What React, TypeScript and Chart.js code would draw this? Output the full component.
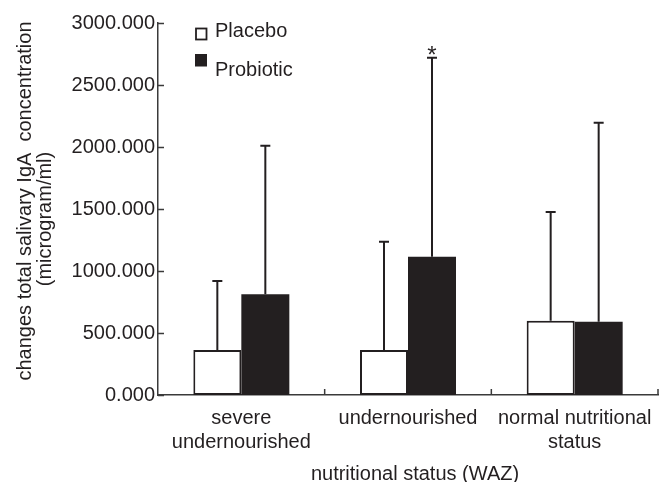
import React, { useEffect, useRef } from "react";
import { Chart, registerables } from "chart.js";

Chart.register(...registerables);

// ---- data ----
const categories: (string | string[])[] = [
  ["severe", "undernourished"],
  "undernourished",
  ["normal nutritional", "status"],
];
const placeboMeans = [363, 363, 599];
const placeboSD = [556, 872, 877];
const probioticMeans = [812, 1115, 590];
const probioticSD = [1198, 1605, 1605];
const yMin = 0;
const yMax = 3000;
const yStep = 500;
// [datasetIndex, categoryIndex] marked with an asterisk
const significantMarks = [[1, 1]];
const seriesNames = ["Placebo", "Probiotic"];
const yTitleLines = ["changes total salivary IgA  concentration", "(microgram/ml)"];
const xTitle = "nutritional status (WAZ)";

const INK = "#231f20";
const AXIS = "#3a3a3a";
const FONT_FAMILY = "'Liberation Sans', Arial, Helvetica, sans-serif";
const FONT_SIZE = 20;

const sdArrays = [placeboSD, probioticSD];

const decorPlugin = {
  id: "decor",
  afterDatasetsDraw(chart: any) {
    const ctx = chart.ctx as CanvasRenderingContext2D;
    const xs = chart.scales.x;
    const ys = chart.scales.y;
    const area = chart.chartArea;
    ctx.save();

    // error bars (upper only)
    chart.data.datasets.forEach((ds: any, di: number) => {
      const meta = chart.getDatasetMeta(di);
      meta.data.forEach((bar: any, i: number) => {
        const top = ys.getPixelForValue(ds.data[i] + sdArrays[di][i]);
        ctx.strokeStyle = INK;
        ctx.lineWidth = 2;
        ctx.beginPath();
        ctx.moveTo(bar.x, bar.y);
        ctx.lineTo(bar.x, top);
        ctx.moveTo(bar.x - 5, top);
        ctx.lineTo(bar.x + 5, top);
        ctx.stroke();
      });
    });

    // asterisks
    ctx.fillStyle = INK;
    ctx.font = `24px ${FONT_FAMILY}`;
    ctx.textAlign = "center";
    ctx.textBaseline = "alphabetic";
    significantMarks.forEach(([di, i]) => {
      const bar = chart.getDatasetMeta(di).data[i];
      const ds = chart.data.datasets[di];
      const top = ys.getPixelForValue(ds.data[i] + sdArrays[di][i]);
      ctx.fillText("*", bar.x, top + 5);
    });

    // inward tick marks on y axis
    ctx.strokeStyle = AXIS;
    ctx.lineWidth = 1.5;
    ctx.beginPath();
    for (let v = yMin; v <= yMax; v += yStep) {
      const py = Math.round(ys.getPixelForValue(v)) + 0.5;
      ctx.moveTo(area.left, py);
      ctx.lineTo(area.left + 6, py);
    }
    // inward tick marks on x axis at category boundaries
    const n = categories.length;
    const half = (xs.getPixelForValue(1) - xs.getPixelForValue(0)) / 2;
    for (let i = 0; i < n; i++) {
      const px = xs.getPixelForValue(i) + half;
      ctx.moveTo(px, area.bottom);
      ctx.lineTo(px, area.bottom - 6);
    }
    ctx.stroke();

    // legend
    ctx.font = `${FONT_SIZE}px ${FONT_FAMILY}`;
    ctx.textAlign = "left";
    ctx.fillStyle = INK;
    ctx.strokeStyle = INK;
    ctx.lineWidth = 1.8;
    ctx.strokeRect(area.left + 38, area.top + 5.5, 10.5, 11);
    ctx.fillText(seriesNames[0], area.left + 57, area.top + 13.7);
    ctx.fillRect(area.left + 37, area.top + 31, 12, 12.5);
    ctx.fillText(seriesNames[1], area.left + 57, area.top + 53);

    // axis titles
    ctx.textAlign = "center";
    ctx.fillText(xTitle, 415, 480);
    ctx.save();
    ctx.translate(25, 201);
    ctx.rotate(-Math.PI / 2);
    ctx.textBaseline = "middle";
    ctx.fillText(yTitleLines[0], 0, 0);
    ctx.restore();
    ctx.save();
    ctx.translate(45, 219);
    ctx.rotate(-Math.PI / 2);
    ctx.textBaseline = "middle";
    ctx.fillText(yTitleLines[1], 0, 0);
    ctx.restore();

    ctx.restore();
  },
};

export default function App() {
  const canvasRef = useRef<HTMLCanvasElement | null>(null);

  useEffect(() => {
    document.body.style.margin = "0";
    const canvas = canvasRef.current;
    if (!canvas) return;
    const chart = new Chart(canvas, {
      type: "bar",
      data: {
        labels: categories,
        datasets: [
          {
            label: seriesNames[0],
            data: placeboMeans,
            backgroundColor: "#ffffff",
            borderColor: INK,
            borderWidth: 2,
            borderSkipped: false,
            categoryPercentage: 0.576,
            barPercentage: 1,
          },
          {
            label: seriesNames[1],
            data: probioticMeans,
            backgroundColor: INK,
            borderColor: INK,
            borderWidth: 0,
            borderSkipped: false,
            categoryPercentage: 0.576,
            barPercentage: 1,
          },
        ],
      },
      options: {
        responsive: false,
        animation: false,
        devicePixelRatio: 1,
        layout: { padding: { left: 0, right: 13, top: 23, bottom: 0 } },
        plugins: {
          legend: { display: false },
          tooltip: { enabled: false },
          title: { display: false },
        },
        scales: {
          x: {
            offset: true,
            grid: { display: false, drawTicks: false },
            border: { display: true, color: AXIS, width: 1.5 },
            ticks: {
              color: INK,
              padding: 12,
              font: { family: FONT_FAMILY, size: FONT_SIZE, lineHeight: 1.17 },
              maxRotation: 0,
              autoSkip: false,
            },
            afterFit(scale: any) {
              scale.height = 87;
            },
          },
          y: {
            min: yMin,
            max: yMax,
            grid: { display: false, drawTicks: false },
            border: { display: true, color: AXIS, width: 1.5 },
            ticks: {
              stepSize: yStep,
              color: INK,
              padding: 3,
              font: { family: FONT_FAMILY, size: FONT_SIZE },
              callback: (v: any) => Number(v).toFixed(3),
            },
            afterFit(scale: any) {
              scale.width = 158;
            },
          },
        },
      },
      plugins: [decorPlugin],
    });
    return () => chart.destroy();
  }, []);

  return (
    <div style={{ width: 671, height: 482 }}>
      <canvas ref={canvasRef} width={671} height={482} />
    </div>
  );
}
